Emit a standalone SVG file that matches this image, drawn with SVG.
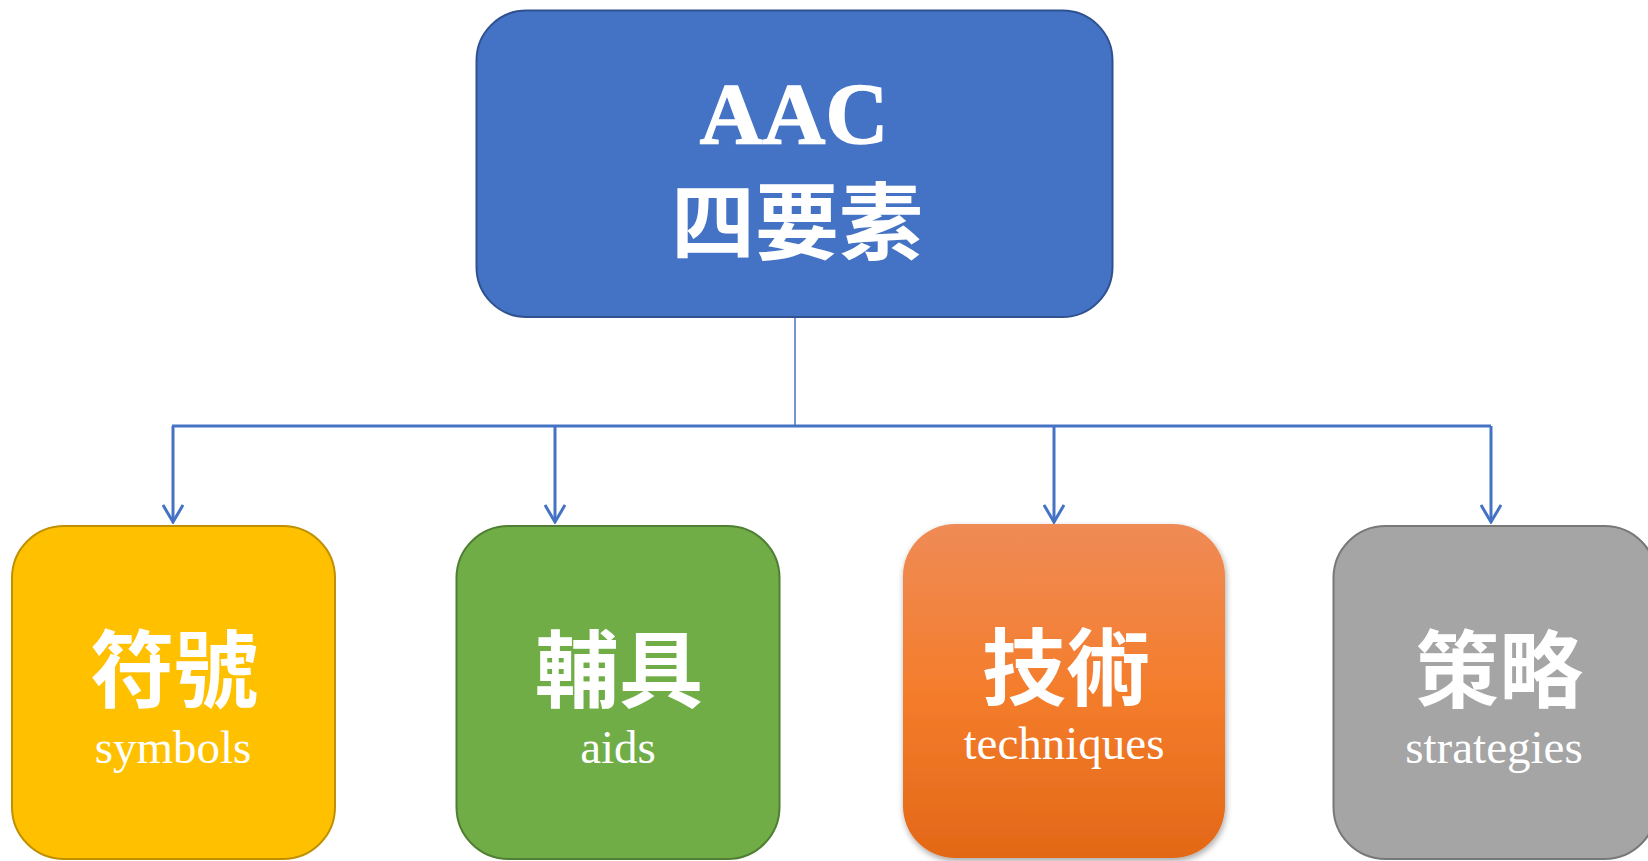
<svg xmlns="http://www.w3.org/2000/svg" width="1648" height="861" viewBox="0 0 1648 861">
<style>
.cjk{font-family:"Noto Sans CJK TC","Noto Sans CJK SC",sans-serif;font-weight:700;fill:#fff;text-anchor:middle;font-size:84px}
.en{font-family:"Liberation Serif","Times New Roman",serif;fill:#fff;text-anchor:middle;font-size:47px}
.title{font-family:"Liberation Serif","Times New Roman",serif;font-weight:bold;fill:#fff;text-anchor:middle;font-size:87px;stroke:#fff;stroke-width:1.5}
.link{stroke:#4472C4;stroke-width:3;fill:none}
</style>
<defs>
<marker id="arr" viewBox="0 0 20 22" refX="18" refY="11" markerWidth="20" markerHeight="22" markerUnits="userSpaceOnUse" orient="auto">
<path d="M1,1 L18,11 L1,21" fill="none" stroke="#4472C4" stroke-width="3"/>
</marker>
<linearGradient id="og" x1="0" y1="0" x2="0" y2="1">
<stop offset="0" stop-color="#EF8B56"/>
<stop offset="0.5" stop-color="#F47D2C"/>
<stop offset="1" stop-color="#E36817"/>
</linearGradient>
<filter id="sh" x="-10%" y="-10%" width="120%" height="120%">
<feDropShadow dx="1" dy="3" stdDeviation="3" flood-color="#000" flood-opacity="0.35"/>
</filter>
</defs>
<g id="connectors">
<line x1="795" y1="317" x2="795" y2="426" stroke="#4472C4" stroke-width="1.5"/>
<line x1="172" y1="426" x2="1491" y2="426" class="link"/>
<line x1="173" y1="426" x2="173" y2="522" class="link" marker-end="url(#arr)"/>
<line x1="555" y1="426" x2="555" y2="522" class="link" marker-end="url(#arr)"/>
<line x1="1054" y1="426" x2="1054" y2="522" class="link" marker-end="url(#arr)"/>
<line x1="1491" y1="426" x2="1491" y2="522" class="link" marker-end="url(#arr)"/>
</g>
<g id="aac">
<rect x="476.5" y="10.5" width="636" height="306.5" rx="50" ry="50" fill="#4472C4" stroke="#2F528F" stroke-width="2"/>
<text class="title" x="794" y="143">AAC</text>
<text class="cjk" x="797" y="253">四要素</text>
</g>
<g id="symbols">
<rect x="12" y="526" width="323" height="333" rx="52" ry="52" fill="#FFC000" stroke="#BF9000" stroke-width="2"/>
<text class="cjk" x="174" y="701">符號</text>
<text class="en" x="173" y="763">symbols</text>
</g>
<g id="aids">
<rect x="456.5" y="526" width="323" height="333" rx="52" ry="52" fill="#70AD47" stroke="#507E32" stroke-width="2"/>
<text class="cjk" x="619" y="701">輔具</text>
<text class="en" x="618" y="763">aids</text>
</g>
<g id="techniques">
<rect x="903" y="524" width="322" height="334" rx="52" ry="52" fill="url(#og)" filter="url(#sh)"/>
<text class="cjk" x="1066" y="699">技術</text>
<text class="en" x="1064" y="759">techniques</text>
</g>
<g id="strategies">
<rect x="1333.5" y="526" width="323" height="333" rx="52" ry="52" fill="#A5A5A5" stroke="#787878" stroke-width="2"/>
<text class="cjk" x="1499" y="701">策略</text>
<text class="en" x="1494" y="763">strategies</text>
</g>
</svg>
